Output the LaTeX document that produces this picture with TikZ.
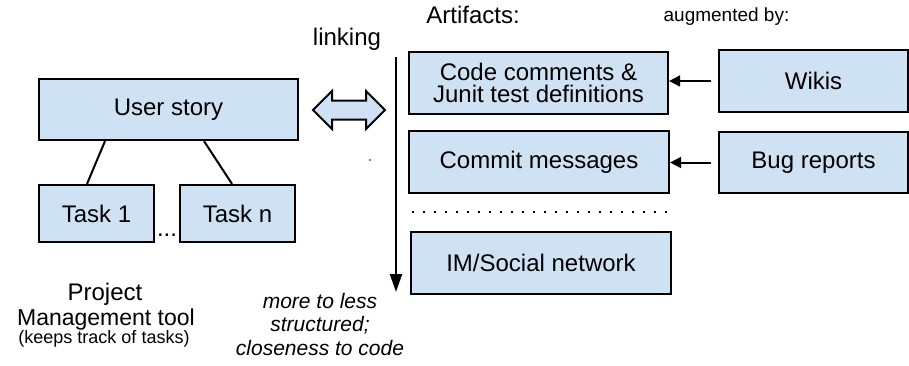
\documentclass[tikz,border=0pt]{standalone}
\usepackage{fontspec}
\setmainfont{Liberation Sans}
\usepackage{xcolor}
\usetikzlibrary{arrows.meta, shapes.arrows, positioning}
\definecolor{boxblue}{RGB}{207, 226, 243}

\tikzset{
  artbox/.style={draw, line width=2.2pt, fill=boxblue, inner sep=0pt,
    align=center, font=\fontsize{24}{22}\selectfont},
  link/.style={line width=2pt, -{Triangle[length=11pt,width=11pt]}}
}

\begin{document}
\begin{tikzpicture}[x=1pt, y=-1pt]
    \useasboundingbox (0,0) rectangle (909,365);

    % Left side (project management tool)
    \node[artbox, minimum width=259pt, minimum height=61pt] (story) at (168.5,109.5) {User story};
    \node[artbox, minimum width=115pt, minimum height=57pt] (task1) at (96.5,213.5) {Task 1};
    \node[artbox, minimum width=115pt, minimum height=57pt] (taskn) at (237.5,213.5) {Task n};
    \node[anchor=base, inner sep=0pt, font=\fontsize{24}{26}\selectfont] (dots) at (167,236) {...};
    \draw[line width=2pt] ([xshift=-63.5pt]story.south) -- ([xshift=-9.5pt]task1.north);
    \draw[line width=2pt] ([xshift=35.5pt]story.south) -- ([xshift=-5.5pt]taskn.north);

    \node[anchor=base, inner sep=0pt, font=\fontsize{24}{26}\selectfont] (proj) at (105,300) {Project};
    \node[anchor=base, inner sep=0pt, font=\fontsize{23}{26}\selectfont] (mgmt) at (106,325) {Management tool};
    \node[anchor=base, inner sep=0pt, font=\fontsize{18}{20}\selectfont] (keeps) at (104,343) {(keeps track of tasks)};

    % Linking
    \node[double arrow, draw, line width=2pt, fill=boxblue, inner sep=8.5pt,
      minimum height=72pt, minimum width=36pt, double arrow head extend=9.5pt] (dblarrow) at (349,110) {};
    \node[anchor=base, inner sep=0pt, font=\fontsize{24}{26}\selectfont] (linking) at (347,45) {linking};
    \fill (370,160) circle (0.9pt);

    % Structure axis
    \coordinate (axtop) at (396,57);
    \coordinate (axbot) at (396,292);
    \draw[line width=2pt, -{Triangle[length=18pt,width=12pt]}] (axtop) -- (axbot);
    \node[anchor=base, inner sep=0pt, align=center, font=\fontsize{21}{23.5}\selectfont\itshape] (axis) at (320,355)
      {more to less\\structured;\\closeness to code};

    % Artifacts
    \node[anchor=base, inner sep=0pt, font=\fontsize{24}{26}\selectfont] (artif) at (473,23) {Artifacts:};
    \node[artbox, minimum width=259pt, minimum height=62pt] (code) at (538.5,83) {Code comments \&\\Junit test definitions};
    \node[artbox, minimum width=260pt, minimum height=62pt] (commit) at (539,162) {Commit messages};
    \node[artbox, minimum width=260pt, minimum height=62pt] (social) at (541,263) {IM/Social network};
    \draw[line width=2pt, dash pattern=on 2pt off 9pt] ([xshift=4pt]commit.south west |- 0,212) -- (commit.south east |- 0,212);

    % Augmented by
    \node[anchor=base, inner sep=0pt, font=\fontsize{19}{22}\selectfont] (augm) at (726.5,21) {augmented by:};
    \node[artbox, minimum width=189pt, minimum height=62pt] (wikis) at (813.5,81) {Wikis};
    \node[artbox, minimum width=189pt, minimum height=61pt] (bugs) at (813.5,162.5) {Bug reports};
    \draw[link] ([xshift=-7pt]wikis.west) -- (wikis.west -| code.east);
    \draw[link] ([xshift=-7pt]bugs.west) -- (bugs.west -| commit.east);
\end{tikzpicture}
\end{document}
